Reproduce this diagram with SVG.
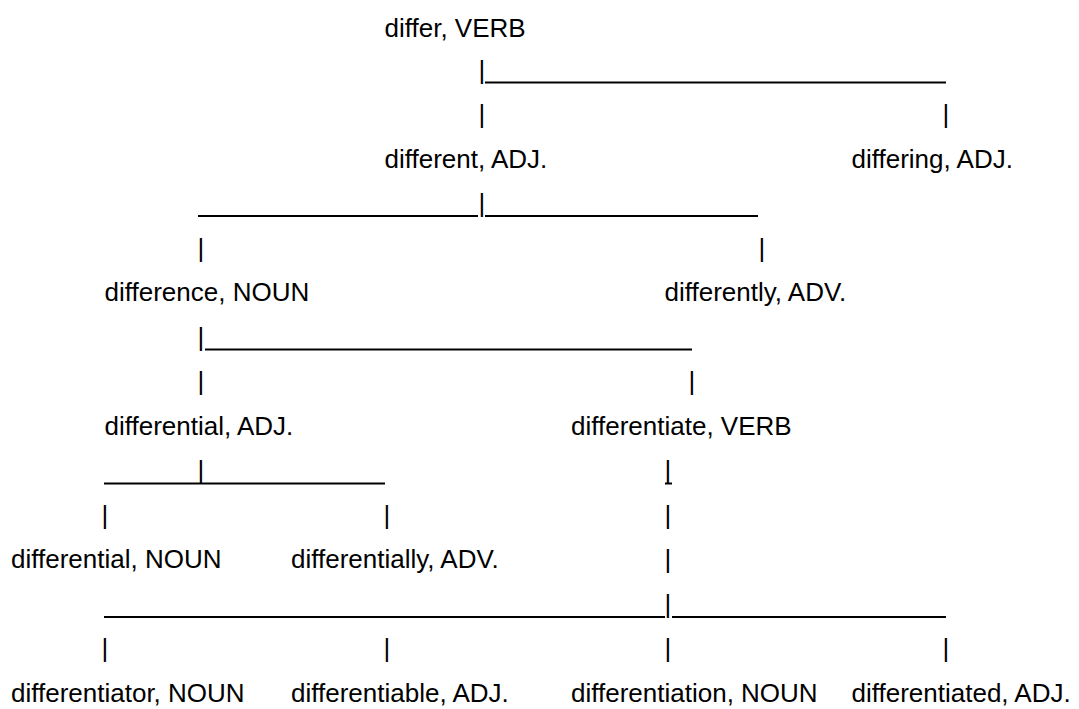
<svg xmlns="http://www.w3.org/2000/svg" width="1079" height="709" viewBox="0 0 1079 709">
  <style>
    text { font-family: "Liberation Sans", Arial, sans-serif; font-size: 26px; fill: #000; }
    .rule { stroke: #000; stroke-width: 2; fill: none; }
  </style>
  <rect width="1079" height="709" fill="#fff"/>

  <!-- word nodes, set on tab stops; one text line every 44.5px -->
  <g id="n-differ"><text x="384.5" y="37">differ, VERB</text></g>
  <g id="n-different"><text x="384.5" y="167.5">different, ADJ.</text></g>
  <g id="n-differing"><text x="851.5" y="167.5">differing, ADJ.</text></g>
  <g id="n-difference"><text x="104.5" y="301">difference, NOUN</text></g>
  <g id="n-differently"><text x="664.5" y="301">differently, ADV.</text></g>
  <g id="n-differential-adj"><text x="104.5" y="434.5">differential, ADJ.</text></g>
  <g id="n-differentiate"><text x="571" y="434.5">differentiate, VERB</text></g>
  <g id="n-differential-noun"><text x="11" y="568">differential, NOUN</text></g>
  <g id="n-differentially"><text x="291" y="568">differentially, ADV.</text></g>
  <g id="n-differentiator"><text x="11" y="701.5">differentiator, NOUN</text></g>
  <g id="n-differentiable"><text x="291" y="701.5">differentiable, ADJ.</text></g>
  <g id="n-differentiation"><text x="571" y="701.5">differentiation, NOUN</text></g>
  <g id="n-differentiated"><text x="851.5" y="701.5">differentiated, ADJ.</text></g>

  <!-- connectors: bar characters and underscore rules -->
  <g id="connectors">
    <text x="478.6" y="78.5">|</text>
    <text x="478.6" y="123">|</text>
    <text x="942.6" y="123">|</text>
    <text x="478.6" y="212">|</text>
    <text x="197.6" y="256.5">|</text>
    <text x="758.6" y="256.5">|</text>
    <text x="197.6" y="345.5">|</text>
    <text x="197.6" y="390">|</text>
    <text x="688.6" y="390">|</text>
    <text x="197.6" y="479">|</text>
    <text x="664.6" y="479">|</text>
    <text x="101.6" y="523.5">|</text>
    <text x="383.6" y="523.5">|</text>
    <text x="664.6" y="523.5">|</text>
    <text x="664.6" y="568">|</text>
    <text x="664.6" y="612.5">|</text>
    <text x="101.6" y="657">|</text>
    <text x="383.6" y="657">|</text>
    <text x="664.6" y="657">|</text>
    <text x="942.6" y="657">|</text>

    <line class="rule" x1="485" y1="82.5" x2="946" y2="82.5"/>
    <line class="rule" x1="198" y1="216" x2="478" y2="216"/>
    <line class="rule" x1="485" y1="216" x2="758" y2="216"/>
    <line class="rule" x1="205" y1="349.5" x2="692" y2="349.5"/>
    <line class="rule" x1="104" y1="483.5" x2="385" y2="483.5"/>
    <line class="rule" x1="665" y1="483.5" x2="672" y2="483.5"/>
    <line class="rule" x1="104" y1="617" x2="665" y2="617"/>
    <line class="rule" x1="672" y1="617" x2="946" y2="617"/>
  </g>
</svg>
